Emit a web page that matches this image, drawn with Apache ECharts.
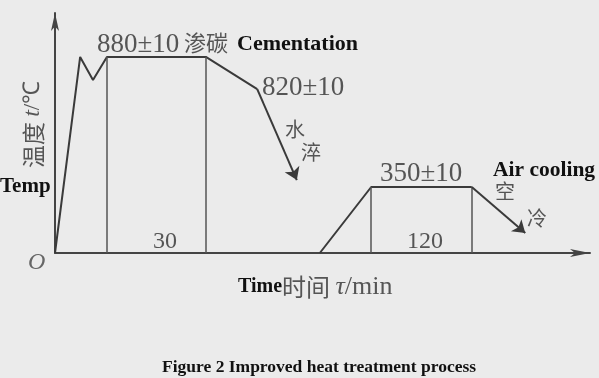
<!DOCTYPE html>
<html>
<head>
<meta charset="utf-8">
<script src="https://cdn.jsdelivr.net/npm/echarts@6/dist/echarts.min.js"></script>
<style>
  html, body { margin: 0; padding: 0; background: #ebebeb; }
  #main { width: 599px; height: 378px; }
</style>
</head>
<body>
<div id="main"></div>
<script>
var chart = echarts.init(document.getElementById('main'));

// schematic units: time 0..100, temperature 0..100 (figure is not to scale)
var carbX = [0, 4.7, 7.1, 9.7, 28.2, 37.8];
var carbY = [0, 81.7, 72.1, 81.7, 81.7, 68.3];
var quenchEnd = [45.2, 30.4];
var tempX = [49.5, 59.1, 77.9];
var tempY = [0, 27.5, 27.5];
var airEnd = [87.9, 8.3];
var holdX = [9.7, 28.2, 59.1, 77.9];
var holdY = [81.7, 81.7, 27.5, 27.5];
var holdLabels = ['30', '120'];
var tempLabels = ['880±10', '820±10', '350±10'];

var ink = '#3a3a3a';
var grey = '#555';
var serif = 'Liberation Serif';
var cjk = 'Noto Sans CJK SC';

function pairs(xs, ys) {
    return xs.map(function (x, i) { return [x, ys[i]]; });
}

var dropLines = holdX.map(function (x, i) {
    return [{ coord: [x, holdY[i]] }, { coord: [x, 0] }];
});

option = {
    backgroundColor: '#ebebeb',
    animation: false,
    grid: {
        left: 55,
        right: 9,
        top: 13,
        bottom: 125
    },
    xAxis: {
        type: 'value',
        min: 0,
        max: 100,
        axisLine: {
            show: true,
            symbol: ['none', 'arrow'],
            symbolSize: [6, 20],
            lineStyle: { color: '#444', width: 2 }
        },
        axisTick: { show: false },
        axisLabel: { show: false },
        splitLine: { show: false }
    },
    yAxis: {
        type: 'value',
        min: 0,
        max: 100,
        axisLine: {
            show: true,
            symbol: ['none', 'arrow'],
            symbolSize: [6, 18],
            lineStyle: { color: '#444', width: 2 }
        },
        axisTick: { show: false },
        axisLabel: { show: false },
        splitLine: { show: false }
    },
    series: [{
        name: 'carburize',
        type: 'line',
        showSymbol: false,
        lineStyle: { color: ink, width: 2 },
        data: pairs(carbX, carbY),
        markLine: {
            silent: true,
            symbol: ['none', 'none'],
            label: { show: false },
            lineStyle: { type: 'solid', color: '#555', width: 1.5 },
            data: dropLines.concat([
                [{ coord: [carbX[5], carbY[5]], symbol: 'none', lineStyle: { color: ink, width: 2 } },
                 { coord: quenchEnd, symbol: 'arrow', symbolSize: 12 }]
            ])
        }
    }, {
        name: 'temper',
        type: 'line',
        showSymbol: false,
        lineStyle: { color: ink, width: 2 },
        data: pairs(tempX, tempY),
        markLine: {
            silent: true,
            symbol: ['none', 'arrow'],
            symbolSize: 12,
            label: { show: false },
            lineStyle: { type: 'solid', color: ink, width: 2 },
            data: [
                [{ coord: [tempX[2], tempY[2]] }, { coord: airEnd }]
            ]
        }
    }],
    graphic: [
        { type: 'text', left: 97, top: 31, style: { text: tempLabels[0], font: '27px ' + serif, fill: grey } },
        { type: 'text', left: 184, top: 32, style: { text: '渗碳', font: '22px ' + cjk, fill: grey } },
        { type: 'text', left: 237, top: 33, style: { text: 'Cementation', font: 'bold 22px ' + serif, fill: '#111' } },
        { type: 'text', left: 262, top: 74, style: { text: tempLabels[1], font: '27px ' + serif, fill: grey } },
        { type: 'text', left: 285, top: 119, style: { text: '水', font: '20px ' + cjk, fill: grey } },
        { type: 'text', left: 301, top: 142, style: { text: '淬', font: '20px ' + cjk, fill: grey } },
        { type: 'text', left: 380, top: 160, style: { text: tempLabels[2], font: '27px ' + serif, fill: grey } },
        { type: 'text', left: 493, top: 159, style: { text: 'Air cooling', font: 'bold 21.5px ' + serif, fill: '#111' } },
        { type: 'text', left: 495, top: 181, style: { text: '空', font: '20px ' + cjk, fill: grey } },
        { type: 'text', left: 527, top: 208, style: { text: '冷', font: '20px ' + cjk, fill: grey } },
        { type: 'text', left: 153, top: 230, style: { text: holdLabels[0], font: '24px ' + serif, fill: grey } },
        { type: 'text', left: 407, top: 230, style: { text: holdLabels[1], font: '24px ' + serif, fill: grey } },
        { type: 'text', left: 28, top: 251, style: { text: 'O', font: 'italic 24px ' + serif, fill: '#666' } },
        { type: 'text', left: 0, top: 176, style: { text: 'Temp', font: 'bold 21px ' + serif, fill: '#111' } },
        {
            type: 'text', x: 21, y: 168, rotation: Math.PI / 2,
            style: {
                text: '{a|温度 }{b|t}{c|/℃}',
                rich: {
                    a: { font: '23px ' + cjk, fill: grey },
                    b: { font: 'italic 24px ' + serif, fill: grey },
                    c: { font: '23px ' + serif, fill: grey }
                }
            }
        },
        {
            type: 'text', left: 238, top: 274,
            style: {
                text: '{t|Time}{a|时间 }{b|τ}{c|/min}',
                rich: {
                    t: { font: 'bold 20px ' + serif, fill: '#111' },
                    a: { font: '24px ' + cjk, fill: grey },
                    b: { font: 'italic 26px ' + serif, fill: grey },
                    c: { font: '26px ' + serif, fill: grey }
                }
            }
        },
        { type: 'text', left: 162, top: 358, style: { text: 'Figure 2 Improved heat treatment process', font: 'bold 17.5px ' + serif, fill: '#111' } }
    ]
};

chart.setOption(option);
</script>
</body>
</html>
